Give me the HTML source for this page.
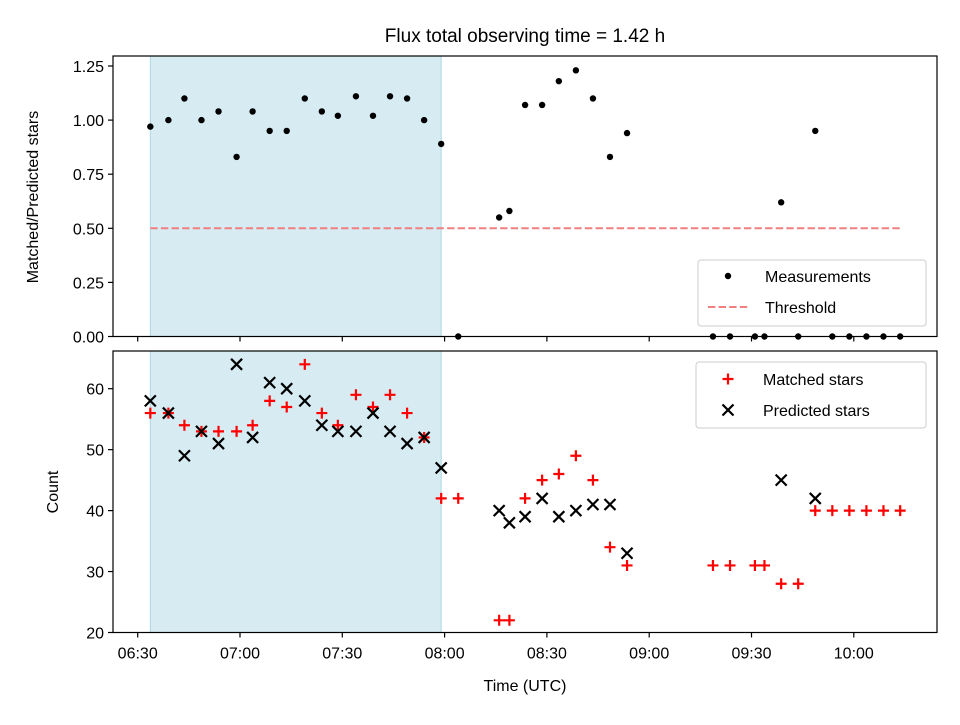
<!DOCTYPE html>
<html><head><meta charset="utf-8"><style>
body{margin:0;background:#fff}
svg{font-family:"Liberation Sans","DejaVu Sans",sans-serif}
</style></head><body>
<svg id="c" width="960" height="720" xmlns="http://www.w3.org/2000/svg"></svg>
<script>
// minutes after 06:30
const times = [3.7,9,13.7,18.7,23.7,29,33.7,38.7,43.7,49,54,58.7,64,69,74,79,84,89,94,106,109,113.6,118.6,123.5,128.5,133.5,138.5,143.5,168.7,173.7,181,183.8,188.7,193.7,198.7,203.7,208.7,213.7,218.7,223.6];
const ratio = [0.97,1.00,1.10,1.00,1.04,0.83,1.04,0.95,0.95,1.10,1.04,1.02,1.11,1.02,1.11,1.10,1.00,0.89,0,0.55,0.58,1.07,1.07,1.18,1.23,1.10,0.83,0.94,0,0,0,0,0.62,0,0.95,0,0,0,0,0];
const matched = [56,56,54,53,53,53,54,58,57,64,56,54,59,57,59,56,52,42,42,22,22,42,45,46,49,45,34,31,31,31,31,31,28,28,40,40,40,40,40,40];
const predicted = [58,56,49,53,51,64,52,61,60,58,54,53,53,56,53,51,52,47,null,40,38,39,42,39,40,41,41,33,null,null,null,null,45,null,42,null,null,null,null,null];
const xTickLabels = ["06:30","07:00","07:30","08:00","08:30","09:00","09:30","10:00"];
const topTicks = [0,0.25,0.5,0.75,1.0,1.25];
const botTicks = [20,30,40,50,60];
const threshold = 0.5;
const spanStart = 3.7, spanEnd = 89;

const NS="http://www.w3.org/2000/svg";
const svg=document.getElementById('c');
function mk(tag,attrs,parent){const e=document.createElementNS(NS,tag);for(const k in attrs)e.setAttribute(k,attrs[k]);(parent||svg).appendChild(e);return e;}
const L=113,R=937,T1=56,B1=336.5,T2=351,B2=632.5;
const x=m=>137.7+m*102.3/30;
const y1=v=>B1-v*216.4;
const y2=v=>B2-(v-20)*6.095;

let s=mk('rect',{x:x(spanStart),y:T1,width:x(spanEnd)-x(spanStart),height:B1-T1,fill:'#add8e6','fill-opacity':0.5,stroke:'#add8e6'});

s=mk('rect',{x:x(spanStart),y:T2,width:x(spanEnd)-x(spanStart),height:B2-T2,fill:'#add8e6','fill-opacity':0.5,stroke:'#add8e6'});


let th=mk('line',{x1:x(times[0]),x2:x(223.6),y1:y1(threshold),y2:y1(threshold),stroke:'#f08080','stroke-width':2,'stroke-dasharray':'7.4,3.2'});


times.forEach((t,i)=>{const c=mk('circle',{cx:x(t),cy:y1(ratio[i]),r:3.2,fill:'#000'});
});

times.forEach((t,i)=>{
 const cx=x(t),cy=y2(matched[i]);
 const g=mk('path',{d:`M${cx-5.5},${cy}H${cx+5.5}M${cx},${cy-5.5}V${cy+5.5}`,stroke:'#f00','stroke-width':2.2});
 
 if(predicted[i]!=null){const py=y2(predicted[i]);
  const p=mk('path',{d:`M${cx-5.5},${py-5.5}L${cx+5.5},${py+5.5}M${cx-5.5},${py+5.5}L${cx+5.5},${py-5.5}`,stroke:'#000','stroke-width':2.2});
  }
});

let f=mk('rect',{x:L,y:T1,width:R-L,height:B1-T1,fill:'none',stroke:'#000','stroke-width':1.2});

f=mk('rect',{x:L,y:T2,width:R-L,height:B2-T2,fill:'none',stroke:'#000','stroke-width':1.2});


xTickLabels.forEach((lab,i)=>{const xx=x(i*30);
 mk('line',{x1:xx,x2:xx,y1:B1,y2:B1+5,stroke:'#000','stroke-width':1.2});
 mk('line',{x1:xx,x2:xx,y1:B2,y2:B2+5,stroke:'#000','stroke-width':1.2});
 const t=mk('text',{x:xx,y:B2+26,'text-anchor':'middle','font-size':16});t.textContent=lab;
 });
topTicks.forEach(v=>{const yy=y1(v);mk('line',{x1:L-5,x2:L,y1:yy,y2:yy,stroke:'#000','stroke-width':1.2});
 const t=mk('text',{x:L-9,y:yy+6,'text-anchor':'end','font-size':16});t.textContent=v.toFixed(2);
 });
botTicks.forEach(v=>{const yy=y2(v);mk('line',{x1:L-5,x2:L,y1:yy,y2:yy,stroke:'#000','stroke-width':1.2});
 const t=mk('text',{x:L-9,y:yy+6,'text-anchor':'end','font-size':16});t.textContent=v;
 });
</script>
<svg width="960" height="720" style="position:absolute;left:0;top:0" xmlns="http://www.w3.org/2000/svg">
<text x="525" y="42" text-anchor="middle" font-size="19" font-family="Liberation Sans, sans-serif">Flux total observing time = 1.42 h</text>
<text transform="translate(38,197) rotate(-90)" text-anchor="middle" font-size="16" font-family="Liberation Sans, sans-serif">Matched/Predicted stars</text>
<text transform="translate(58,492) rotate(-90)" text-anchor="middle" font-size="16" font-family="Liberation Sans, sans-serif">Count</text>
<text x="525" y="691" text-anchor="middle" font-size="16" font-family="Liberation Sans, sans-serif">Time (UTC)</text>
<g font-family="Liberation Sans, sans-serif" font-size="16">
<rect x="698" y="260" width="228" height="66" rx="3" fill="#fff" fill-opacity="0.85" stroke="#ccc"/>
<circle cx="728" cy="276" r="3.2" fill="#000"/>
<text x="765" y="282">Measurements</text>
<line x1="708" x2="748" y1="307" y2="307" stroke="#f08080" stroke-width="2" stroke-dasharray="7.4,3.2"/>
<text x="765" y="313">Threshold</text>
</g>
<g font-family="Liberation Sans, sans-serif" font-size="16">
<rect x="696" y="362" width="230" height="66" rx="3" fill="#fff" fill-opacity="0.85" stroke="#ccc"/>
<path d="M722.5,379H733.5M728,373.5V384.5" stroke="#f00" stroke-width="2.2"/>
<text x="763" y="385">Matched stars</text>
<path d="M722.5,404.5L733.5,415.5M722.5,415.5L733.5,404.5" stroke="#000" stroke-width="2.2"/>
<text x="763" y="416">Predicted stars</text>
</g>
</svg>
</body></html>
